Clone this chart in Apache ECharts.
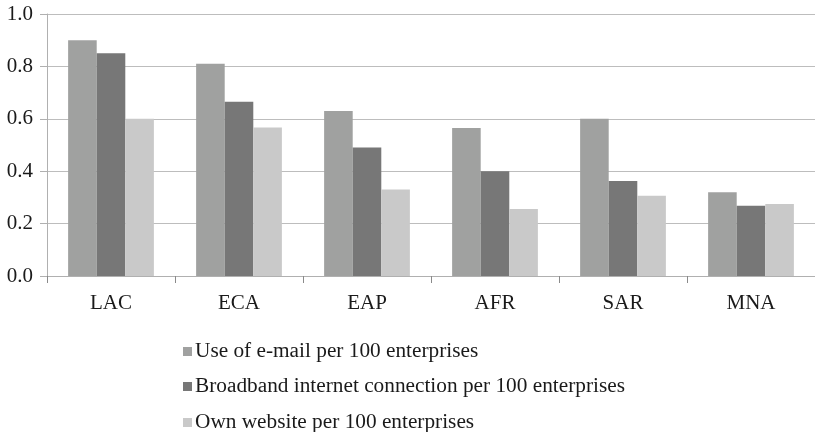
<!DOCTYPE html>
<html>
<head>
<meta charset="utf-8">
<script src="https://cdn.jsdelivr.net/npm/echarts@6/dist/echarts.min.js"></script>
<style>html,body{margin:0;padding:0;background:#fff;}#c{width:815px;height:432px;}</style>
</head>
<body>
<div id="c"></div>
<script>
const categories = ['LAC', 'ECA', 'EAP', 'AFR', 'SAR', 'MNA'];
const seriesNames = ['Use of e-mail per 100 enterprises', 'Broadband internet connection per 100 enterprises', 'Own website per 100 enterprises'];
const emailValues = [0.90, 0.81, 0.63, 0.565, 0.60, 0.32];
const broadbandValues = [0.85, 0.665, 0.49, 0.40, 0.363, 0.268];
const websiteValues = [0.60, 0.567, 0.33, 0.256, 0.306, 0.275];
const yTicks = [0, 0.2, 0.4, 0.6, 0.8, 1.0];
const colors = ['#a0a1a0', '#777777', '#c9c9c9'];

const font = '"Liberation Serif", "Times New Roman", serif';
const chart = echarts.init(document.getElementById('c'), null, {renderer: 'canvas'});
const vals = [emailValues, broadbandValues, websiteValues];
const legendTops = [336, 371, 407];
chart.setOption({
  animation: false,
  color: colors,
  grid: {left: 47, top: 14, width: 773, height: 262, containLabel: false},
  legend: seriesNames.map((n, i) => ({
    orient: 'vertical', left: 178, top: legendTops[i],
    itemWidth: 9, itemHeight: 9,
    icon: 'rect',
    textStyle: {fontFamily: font, fontSize: 21.3, color: '#1a1a1a', padding: [0, 0, 0, -2]},
    data: [n]
  })),
  xAxis: {
    type: 'category', data: categories,
    axisLine: {lineStyle: {color: '#b0b0b0', width: 1}},
    axisTick: {show: true, length: 7, lineStyle: {color: '#8a8a8a'}},
    axisLabel: {fontFamily: font, fontSize: 21, color: '#1a1a1a', margin: 17}
  },
  yAxis: {
    type: 'value', min: 0, max: 1, interval: 0.2,
    axisLine: {show: true, lineStyle: {color: '#b0b0b0', width: 1}},
    axisTick: {show: true, length: 7, lineStyle: {color: '#b0b0b0'}},
    splitLine: {lineStyle: {color: '#bdbdbd', width: 1.2}},
    axisLabel: {fontFamily: font, fontSize: 21, color: '#1a1a1a', margin: 14,
      formatter: v => { const t = yTicks.find(x => Math.abs(x - v) < 1e-9); return (t !== undefined ? t : v).toFixed(1); }}
  },
  series: seriesNames.map((n, i) => ({
    name: n, type: 'bar', data: vals[i],
    barGap: '0%', barCategoryGap: '33%'
  }))
});
</script>
</body>
</html>
